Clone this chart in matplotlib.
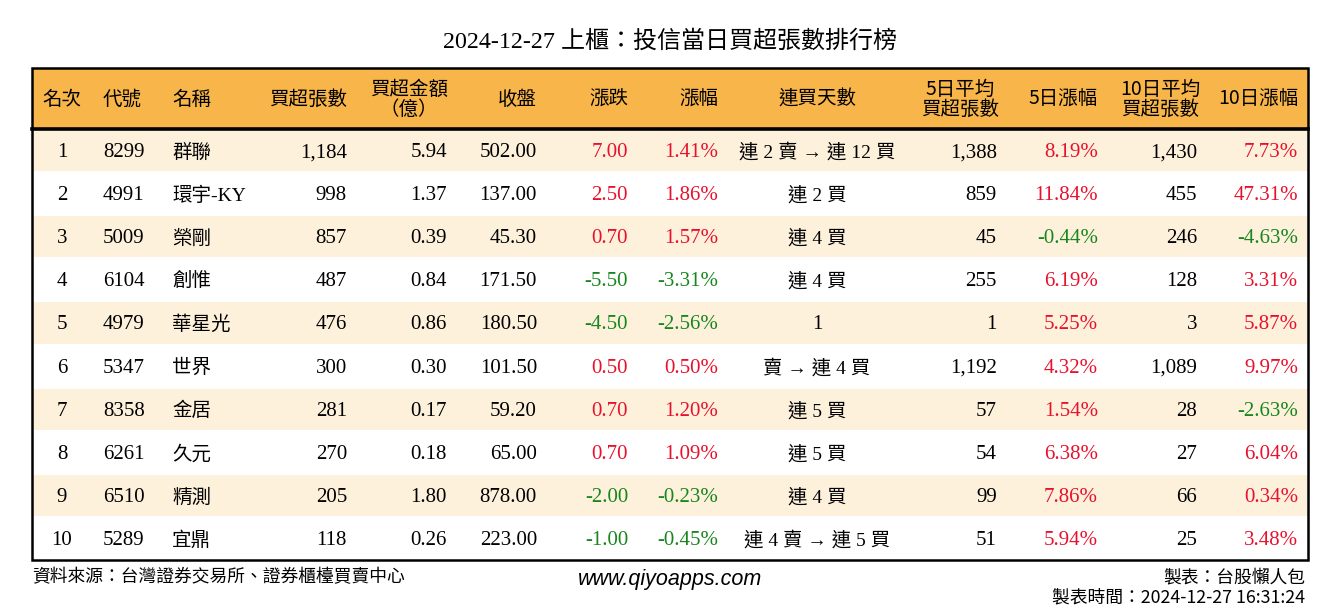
import matplotlib.pyplot as plt
from matplotlib.patches import Rectangle

# --------------------------------------------------
# Table data
# --------------------------------------------------
TITLE = "2024-12-27 上櫃：投信當日買超張數排行榜"

ranks = [1, 2, 3, 4, 5, 6, 7, 8, 9, 10]
codes = ["8299", "4991", "5009", "6104", "4979", "5347", "8358", "6261", "6510", "5289"]
names = ["群聯", "環宇-KY", "榮剛", "創惟", "華星光", "世界", "金居", "久元", "精測", "宜鼎"]
buy_lots = [1184, 998, 857, 487, 476, 300, 281, 270, 205, 118]
buy_amount = [5.94, 1.37, 0.39, 0.84, 0.86, 0.30, 0.17, 0.18, 1.80, 0.26]
close = [502.00, 137.00, 45.30, 171.50, 180.50, 101.50, 59.20, 65.00, 878.00, 223.00]
change = [7.00, 2.50, 0.70, -5.50, -4.50, 0.50, 0.70, 0.70, -2.00, -1.00]
change_pct = [1.41, 1.86, 1.57, -3.31, -2.56, 0.50, 1.20, 1.09, -0.23, -0.45]
streak = ["連 2 賣 → 連 12 買", "連 2 買", "連 4 買", "連 4 買", "1",
          "賣 → 連 4 買", "連 5 買", "連 5 買", "連 4 買", "連 4 賣 → 連 5 買"]
avg5_lots = [1388, 859, 45, 255, 1, 1192, 57, 54, 99, 51]
pct5 = [8.19, 11.84, -0.44, 6.19, 5.25, 4.32, 1.54, 6.38, 7.86, 5.94]
avg10_lots = [1430, 455, 246, 128, 3, 1089, 28, 27, 66, 25]
pct10 = [7.73, 47.31, -4.63, 3.31, 5.87, 9.97, -2.63, 6.04, 0.34, 3.48]

headers = ["名次", "代號", "名稱", "買超張數", "買超金額\n（億）", "收盤", "漲跌", "漲幅",
           "連買天數", "5日平均\n買超張數", "5日漲幅", "10日平均\n買超張數", "10日漲幅"]

# --------------------------------------------------
# Layout (pixel coords)
# --------------------------------------------------
W, H = 1340, 612
LEFT, RIGHT = 32, 1308
TOP, HEAD_BOT = 68, 129
ROW_H = 43.1

# (x, alignment) per column
cols = [(62, "center"), (103, "left"), (172, "left"), (347, "right"), (447, "right"),
        (537, "right"), (628, "right"), (718, "right"), (817, "center"), (997, "right"),
        (1098, "right"), (1197, "right"), (1298, "right")]
head_pos = list(cols)
head_pos[4] = (409, "center")
head_pos[9] = (960, "center")
head_pos[11] = (1160, "center")

# columns drawn as CJK text get a smaller size than the numbers
cjk_cols = {2, 8}

HEAD_BG = "#F7B54A"
ROW_BG = "#FDF1DC"
RED = "#E8112D"
GREEN = "#17861C"

FONT = ["Liberation Serif", "Noto Sans CJK TC"]
CJK = ["Noto Sans CJK TC", "Liberation Serif"]

fig = plt.figure(figsize=(13.4, 6.12), dpi=100)
ax = fig.add_axes([0, 0, 1, 1])
ax.set_xlim(0, W)
ax.set_ylim(H, 0)
ax.axis("off")

ax.text(W / 2, 42, TITLE, ha="center", va="center", fontsize=17.3, family=FONT)

# header background
ax.add_patch(Rectangle((LEFT, TOP), RIGHT - LEFT, HEAD_BOT - TOP, color=HEAD_BG, lw=0))
for (x, ha), h in zip(head_pos, headers):
    ax.text(x, (TOP + HEAD_BOT) / 2 + 1, h, ha=ha, va="center", fontsize=14,
            family=CJK, linespacing=0.95)


def color_of(v):
    return RED if v > 0 else GREEN if v < 0 else "black"


n = len(ranks)
for i in range(n):
    y0 = HEAD_BOT + i * ROW_H
    yc = y0 + ROW_H / 2 + 2
    if i % 2 == 0:
        ax.add_patch(Rectangle((LEFT, y0 + 1), RIGHT - LEFT, ROW_H - 2, color=ROW_BG, lw=0))
    cells = [
        (str(ranks[i]), "black"),
        (codes[i], "black"),
        (names[i], "black"),
        (f"{buy_lots[i]:,}", "black"),
        (f"{buy_amount[i]:.2f}", "black"),
        (f"{close[i]:.2f}", "black"),
        (f"{change[i]:.2f}", color_of(change[i])),
        (f"{change_pct[i]:.2f}%", color_of(change_pct[i])),
        (streak[i], "black"),
        (f"{avg5_lots[i]:,}", "black"),
        (f"{pct5[i]:.2f}%", color_of(pct5[i])),
        (f"{avg10_lots[i]:,}", "black"),
        (f"{pct10[i]:.2f}%", color_of(pct10[i])),
    ]
    for j, ((x, ha), (txt, c)) in enumerate(zip(cols, cells)):
        size = 14 if j in cjk_cols else 15
        if streak[i] == "1" and j == 8:
            size = 15
        ax.text(x, yc, txt, ha=ha, va="center", fontsize=size, color=c, family=FONT)

bottom = HEAD_BOT + n * ROW_H
# borders
ax.add_patch(Rectangle((LEFT, TOP), RIGHT - LEFT, bottom - TOP, fill=False, ec="black", lw=1.8))
ax.plot([LEFT, RIGHT], [HEAD_BOT, HEAD_BOT], color="black", lw=2.6)

# footer
ax.text(LEFT, 577, "資料來源：台灣證券交易所、證券櫃檯買賣中心", ha="left", va="center",
        fontsize=12.8, family=CJK)
ax.text(670, 580, "www.qiyoapps.com", ha="center", va="center", fontsize=15.5,
        family="Liberation Sans", style="italic")
ax.text(1305, 577, "製表：台股懶人包", ha="right", va="center", fontsize=12.8, family=CJK)
ax.text(1305, 598, "製表時間：2024-12-27 16:31:24", ha="right", va="center",
        fontsize=12.8, family=CJK)

fig.savefig("out.png", dpi=100)
